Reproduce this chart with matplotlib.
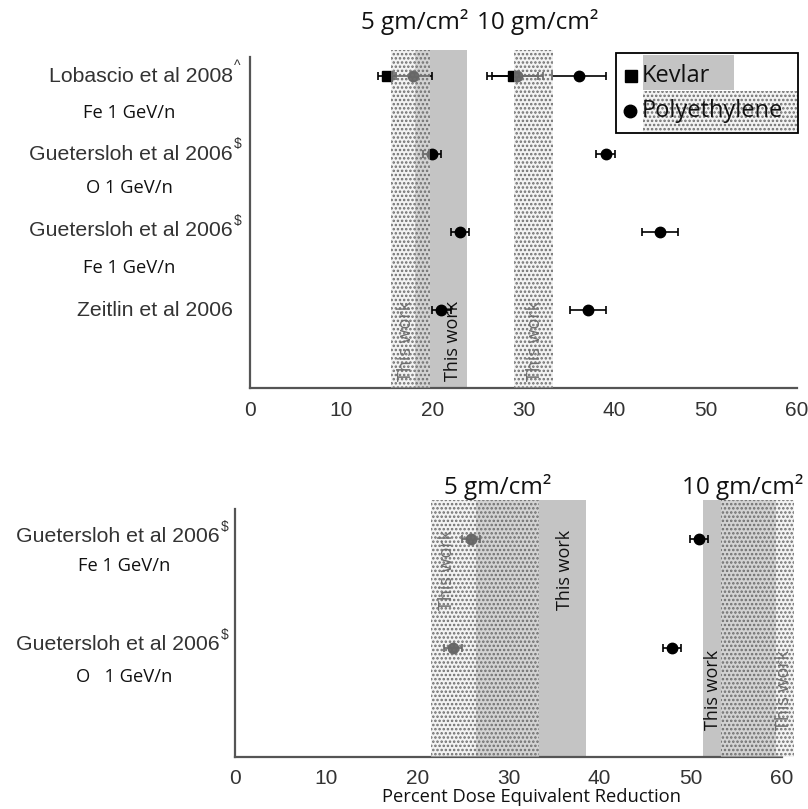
import matplotlib
matplotlib.use('Agg')
import matplotlib.pyplot as plt
from matplotlib.patches import Rectangle

plt.rcParams['hatch.linewidth'] = 1.2

# ---------------- data ----------------
x_ticks = [0, 10, 20, 30, 40, 50, 60]

# top panel rows (y = 4 .. 1)
top_rows = [4, 3, 2, 1]
top_studies = ["Lobascio et al 2008", "Guetersloh et al 2006", "Guetersloh et al 2006", "Zeitlin et al 2006"]
top_marks = ["^", "$", "$", ""]
top_beams = ["Fe 1 GeV/n", "O 1 GeV/n", "Fe 1 GeV/n", ""]

top_kevlar_x = [15.0, 28.8]
top_kevlar_err = [1.0, 2.8]
top_kevlar_y = [4, 4]

top_poly_x = [17.9, 29.3, 36.1, 20.0, 39.0, 23.0, 45.0, 21.0, 37.1]
top_poly_err = [2.1, 2.8, 3.0, 1.0, 1.0, 1.0, 2.0, 1.0, 2.0]
top_poly_y = [4, 4, 4, 3, 3, 2, 2, 1, 1]

top_kevlar_bands = [(18.1, 23.8)]
top_poly_bands = [(15.5, 19.7), (29.0, 33.2)]
top_band_labels = ["5 gm/cm²", "10 gm/cm²"]

# bottom panel rows
bot_rows = [2, 1]
bot_studies = ["Guetersloh et al 2006", "Guetersloh et al 2006"]
bot_marks = ["$", "$"]
bot_beams = ["Fe 1 GeV/n", "O   1 GeV/n"]

bot_poly_x = [25.9, 50.9, 23.9, 47.9]
bot_poly_err = [1.0, 1.0, 1.0, 1.0]
bot_poly_y = [2, 2, 1, 1]

bot_kevlar_bands = [(26.4, 38.5), (51.3, 59.3)]
bot_poly_bands = [(21.5, 33.3), (53.3, 61.3)]

this_work = "This work"
xlabel = "Percent Dose Equivalent Reduction"

# ---------------- figure ----------------
W, H = 808, 809
fig = plt.figure(figsize=(W / 100, H / 100), dpi=100)

def fx(px):
    return px / W

def fy(py):
    return 1 - py / H

ARIAL = 'Liberation Sans'
CAL = 'Open Sans'
SPINE = '#555555'
GREY = '#c4c4c4'
DOT_FACE = (0.90, 0.90, 0.90, 0.45)
DOT_EDGE = '#6e6e6e'
HATCH = '....'

ax1 = fig.add_axes([fx(250), fy(388), fx(797) - fx(250), fy(50) - fy(388)])
ax2 = fig.add_axes([fx(235), fy(757), fx(782) - fx(235), fy(500) - fy(757)])

def style(ax, ytop_spine, ymax):
    ax.set_xlim(0, 60)
    ax.set_ylim(0, ymax)
    ax.spines['top'].set_visible(False)
    ax.spines['right'].set_visible(False)
    for s in ('left', 'bottom'):
        ax.spines[s].set_color(SPINE)
        ax.spines[s].set_linewidth(1.6)
    ax.spines['left'].set_bounds(0, ytop_spine)
    ax.set_yticks([])
    ax.set_xticks(x_ticks)
    ax.set_xticklabels([str(t) for t in x_ticks], fontfamily=ARIAL, fontsize=15, color='#333333')
    ax.tick_params(axis='x', length=0, pad=9)

style(ax1, 4.24, 4.33)
style(ax2, 2.28, 2.36)

def bands(ax, kev, poly, ymax):
    for a, b in kev:
        ax.add_patch(Rectangle((a, 0), b - a, ymax, facecolor=GREY, edgecolor='none',
                               lw=0, zorder=1, clip_on=False))
    for a, b in poly:
        ax.add_patch(Rectangle((a, 0), b - a, ymax, facecolor=DOT_FACE, edgecolor=DOT_EDGE,
                               hatch=HATCH, lw=0, zorder=4, clip_on=False))

bands(ax1, top_kevlar_bands, top_poly_bands, 4.33)
bands(ax2, bot_kevlar_bands, bot_poly_bands, 2.36)

ekw = dict(ecolor='black', elinewidth=1.2, capsize=3, capthick=1.2, linestyle='none', zorder=3)
ax1.errorbar(top_kevlar_x, top_kevlar_y, xerr=top_kevlar_err, marker='s', ms=7,
             mfc='black', mec='black', **ekw)
ax1.errorbar(top_poly_x, top_poly_y, xerr=top_poly_err, marker='o', ms=7.5,
             mfc='black', mec='black', **ekw)
ax2.errorbar(bot_poly_x, bot_poly_y, xerr=bot_poly_err, marker='o', ms=7.5,
             mfc='black', mec='black', **ekw)

# "This work" labels (under dotted bands)
tw = dict(rotation=90, ha='center', va='center', fontfamily=CAL, fontsize=13, color='#111111', zorder=2)
ax1.text(17.1, 0.60, this_work, **tw)
ax1.text(22.3, 0.60, this_work, **tw)
ax1.text(31.3, 0.60, this_work, **tw)
ax2.text(23.2, 1.72, this_work, **tw)
ax2.text(36.2, 1.72, this_work, **tw)
ax2.text(52.4, 0.62, this_work, **tw)
ax2.text(60.2, 0.62, this_work, **tw)

# band headers
hk = dict(ha='center', va='center', fontfamily=CAL, fontsize=17.5, color='#111111')
fig.text(fx(415), fy(22), top_band_labels[0], **hk)
fig.text(fx(538), fy(22), top_band_labels[1], **hk)
fig.text(fx(498), fy(487), top_band_labels[0], **hk)
fig.text(fx(743), fy(487), top_band_labels[1], **hk)

# y labels
def ylabels(studies, marks, beams, ys_main, ys_sub, xr, xc):
    for s, m, b, ym, ysb in zip(studies, marks, beams, ys_main, ys_sub):
        fig.text(fx(xr), fy(ym), s, ha='right', va='center', fontfamily=ARIAL,
                 fontsize=15.3, color='#333333')
        if m:
            fig.text(fx(xr + 1), fy(ym - 10), m, ha='left', va='center', fontfamily=ARIAL,
                     fontsize=10, color='#333333')
        if b:
            fig.text(fx(xc), fy(ysb), b, ha='center', va='center', fontfamily=CAL,
                     fontsize=13.2, color='#111111')

ylabels(top_studies, top_marks, top_beams, [76, 154, 231, 310], [113, 188, 268, 0], 233, 129)
ylabels(bot_studies, bot_marks, bot_beams, [537, 645], [566, 677], 220, 124)

fig.text(fx(531), fy(797), xlabel, ha='center', va='center', fontfamily=CAL,
         fontsize=13.2, color='#111111')

# legend (manual)
fig.add_artist(Rectangle((fx(643), fy(90)), fx(734) - fx(643), fy(55) - fy(90),
                         transform=fig.transFigure, facecolor=GREY, edgecolor='none', lw=0))
fig.add_artist(Rectangle((fx(643), fy(132)), fx(798) - fx(643), fy(91) - fy(132),
                         transform=fig.transFigure, facecolor=DOT_FACE, edgecolor=DOT_EDGE,
                         hatch=HATCH, lw=0))
fig.add_artist(Rectangle((fx(616), fy(133)), fx(798) - fx(616), fy(53) - fy(133),
                         transform=fig.transFigure, facecolor='none', edgecolor='black', lw=1.3))
fig.add_artist(plt.Line2D([fx(631)], [fy(76)], marker='s', ms=8, color='black',
                          transform=fig.transFigure))
fig.add_artist(plt.Line2D([fx(630)], [fy(111)], marker='o', ms=9, color='black',
                          transform=fig.transFigure))
fig.text(fx(642), fy(76), "Kevlar", ha='left', va='center', fontfamily=CAL, fontsize=17, color='#111111')
fig.text(fx(642), fy(111), "Polyethylene", ha='left', va='center', fontfamily=CAL, fontsize=17, color='#111111')

fig.savefig('out.png', dpi=100)
